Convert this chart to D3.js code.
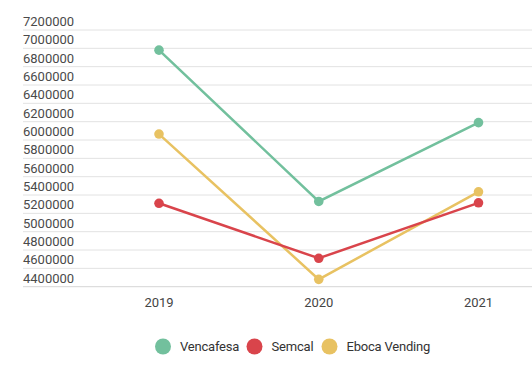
<!DOCTYPE html>
<html><head><meta charset="utf-8">
<script src="https://cdn.jsdelivr.net/npm/d3@7"></script>
<style>
html,body{margin:0;padding:0;background:#fff;}
svg{display:block;font-family:Roboto,"Noto Sans",sans-serif;}
</style></head>
<body><svg id="c" width="532" height="377"></svg>
<script>
const years = ["2019", "2020", "2021"];
const seriesNames = ["Vencafesa", "Semcal", "Eboca Vending"];
const vencafesa = [6980000, 5330000, 6190000];
const semcal = [5310000, 4710000, 5315000];
const ebocaVending = [6065000, 4480000, 5435000];
const yTicks = [4400000, 4600000, 4800000, 5000000, 5200000, 5400000, 5600000, 5800000, 6000000, 6200000, 6400000, 6600000, 6800000, 7000000, 7200000];
const colors = ["#72c09d", "#d9444b", "#e8c262"];

const svg = d3.select("#c");
const y = d3.scaleLinear().domain([4400000, 7200000]).range([286.7, 30]);
const x = d3.scalePoint().domain(years).range([159, 478.5]);

const grid = svg.append("g");
yTicks.forEach(t => {
  grid.append("line").attr("x1", 23).attr("x2", 532)
    .attr("y1", y(t)).attr("y2", y(t))
    .attr("stroke", t === 4400000 ? "#d6d6d6" : "#e2e2e2").attr("stroke-width", 1);
  grid.append("text").attr("x", 23).attr("y", y(t) - 4)
    .attr("font-size", 13).attr("fill", "#4a4a4a").text(t);
});

svg.append("g").selectAll("text").data(years).join("text")
  .attr("x", d => x(d)).attr("y", 307).attr("text-anchor", "middle")
  .attr("font-size", 13).attr("fill", "#444").text(d => d);

const data = [vencafesa, semcal, ebocaVending];
const line = d3.line().x((d, i) => x(years[i])).y(d => y(d));
// draw in order: green, yellow, red on top? keep semcal above eboca
const order = [0, 2, 1];
order.forEach(k => {
  svg.append("path").attr("d", line(data[k])).attr("fill", "none")
    .attr("stroke", colors[k]).attr("stroke-width", 2.5);
});
order.forEach(k => {
  svg.append("g").selectAll("circle").data(data[k]).join("circle")
    .attr("cx", (d, i) => x(years[i])).attr("cy", d => y(d)).attr("r", 4.8)
    .attr("fill", colors[k]);
});

const legendX = [163, 254.5, 329.5];
const lg = svg.append("g");
seriesNames.forEach((n, i) => {
  lg.append("circle").attr("cx", legendX[i]).attr("cy", 346.5).attr("r", 8).attr("fill", colors[i]);
  lg.append("text").attr("x", legendX[i] + 17).attr("y", 351).attr("font-size", 13)
    .attr("fill", "#333").attr("letter-spacing", -0.2).text(n);
});
</script></body></html>
